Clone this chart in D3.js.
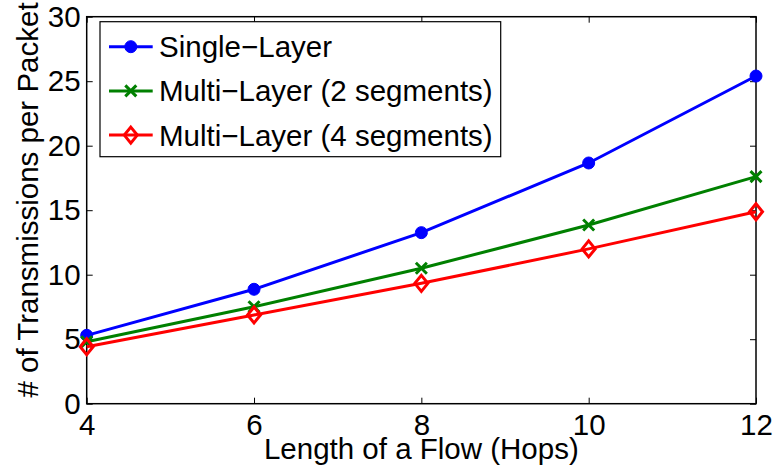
<!DOCTYPE html>
<html>
<head>
<meta charset="utf-8">
<script src="https://cdn.jsdelivr.net/npm/d3@7"></script>
<style>
  body { margin: 0; background: #fff; }
  svg { display: block; font-family: "Liberation Sans", Arial, sans-serif; }
</style>
</head>
<body>
<div id="root"></div>
<script>
const w = 776;
const h = 475;
const margin = { top: 16.7, bottom: 71.3, left: 86.7, right: 20 };
const fontSize = 29.5;

const hops = [4, 6, 8, 10, 12];
const singleLayer = [5.3, 8.87, 13.26, 18.66, 25.4];
const multi2 = [4.8, 7.52, 10.5, 13.85, 17.6];
const multi4 = [4.42, 6.88, 9.33, 12.0, 14.88];
const yTicks = [0, 5, 10, 15, 20, 25, 30];

const series = [
    { name: "Single\u2212Layer", values: singleLayer, color: "#0000ff", marker: "circle" },
    { name: "Multi\u2212Layer (2 segments)", values: multi2, color: "#008000", marker: "cross" },
    { name: "Multi\u2212Layer (4 segments)", values: multi4, color: "#ff0000", marker: "diamond" }
];

const svg = d3.select("#root")
    .append("svg")
    .attr("width", w)
    .attr("height", h);

const xScale = d3.scaleLinear()
    .domain([4, 12])
    .range([margin.left, w - margin.right]);
const yScale = d3.scaleLinear()
    .domain([0, 30])
    .range([h - margin.bottom, margin.top]);

// plot box
svg.append("rect")
    .attr("x", margin.left)
    .attr("y", margin.top)
    .attr("width", xScale(12) - xScale(4))
    .attr("height", yScale(0) - yScale(30))
    .attr("fill", "none")
    .attr("stroke", "#000")
    .attr("stroke-width", 1.5);

// axes, ticks pointing inward
const xAxis = d3.axisBottom(xScale).tickValues(hops).tickSizeInner(-6).tickSizeOuter(0).tickPadding(10);
svg.append("g")
    .attr("transform", "translate(0," + yScale(0) + ")")
    .call(xAxis)
    .call(g => g.select(".domain").remove());
svg.append("g")
    .attr("transform", "translate(0," + yScale(30) + ")")
    .call(d3.axisTop(xScale).tickValues(hops).tickSizeInner(-6).tickSizeOuter(0).tickFormat(""))
    .call(g => g.select(".domain").remove());

const yAxis = d3.axisLeft(yScale).tickValues(yTicks).tickSizeInner(-6).tickSizeOuter(0).tickPadding(6);
svg.append("g")
    .attr("transform", "translate(" + xScale(4) + ",0)")
    .call(yAxis)
    .call(g => g.select(".domain").remove());
svg.append("g")
    .attr("transform", "translate(" + xScale(12) + ",0)")
    .call(d3.axisRight(yScale).tickValues(yTicks).tickSizeInner(-6).tickSizeOuter(0).tickFormat(""))
    .call(g => g.select(".domain").remove());

svg.selectAll(".tick text")
    .attr("font-size", fontSize)
    .attr("font-family", "Liberation Sans, Arial, sans-serif")
    .attr("fill", "#000");
svg.selectAll(".tick line").attr("stroke", "#000").attr("stroke-width", 1);

// axis titles
svg.append("text")
    .attr("x", (xScale(4) + xScale(12)) / 2)
    .attr("y", 459)
    .attr("text-anchor", "middle")
    .attr("font-size", fontSize)
    .text("Length of a Flow (Hops)");
svg.append("text")
    .attr("transform", "translate(38," + 200 + ") rotate(-90)")
    .attr("text-anchor", "middle")
    .attr("font-size", fontSize)
    .text("# of Transmissions per Packet");

function drawMarker(g, type, color) {
    if (type === "circle") {
        g.append("circle").attr("r", 6).attr("fill", color).attr("stroke", color);
    } else if (type === "cross") {
        g.append("path").attr("d", "M-5.5,-5.5L5.5,5.5M-5.5,5.5L5.5,-5.5")
            .attr("stroke", color).attr("stroke-width", 3).attr("fill", "none");
    } else {
        g.append("path").attr("d", "M0,-8L6.5,0L0,8L-6.5,0Z")
            .attr("stroke", color).attr("stroke-width", 3).attr("fill", "none");
    }
}

const line = d3.line()
    .x((d, i) => xScale(hops[i]))
    .y(d => yScale(d));

series.forEach(s => {
    svg.append("path")
        .datum(s.values)
        .attr("d", line)
        .attr("fill", "none")
        .attr("stroke", s.color)
        .attr("stroke-width", 3);
    s.values.forEach((v, i) => {
        const g = svg.append("g").attr("transform", "translate(" + xScale(hops[i]) + "," + yScale(v) + ")");
        drawMarker(g, s.marker, s.color);
    });
});

// legend
const legend = svg.append("g").attr("id", "legend");
legend.append("rect")
    .attr("x", 100)
    .attr("y", 21.7)
    .attr("width", 400.7)
    .attr("height", 135)
    .attr("fill", "#fff")
    .attr("stroke", "#000")
    .attr("stroke-width", 1.2);
series.forEach((s, i) => {
    const cy = 46.7 + i * 44.2;
    legend.append("line")
        .attr("x1", 109).attr("x2", 152.7)
        .attr("y1", cy).attr("y2", cy)
        .attr("stroke", s.color).attr("stroke-width", 3);
    drawMarker(legend.append("g").attr("transform", "translate(130.8," + cy + ")"), s.marker, s.color);
    legend.append("text")
        .attr("x", 159)
        .attr("y", cy + 10.5)
        .attr("font-size", fontSize)
        .text(s.name);
});
</script>
</body>
</html>
